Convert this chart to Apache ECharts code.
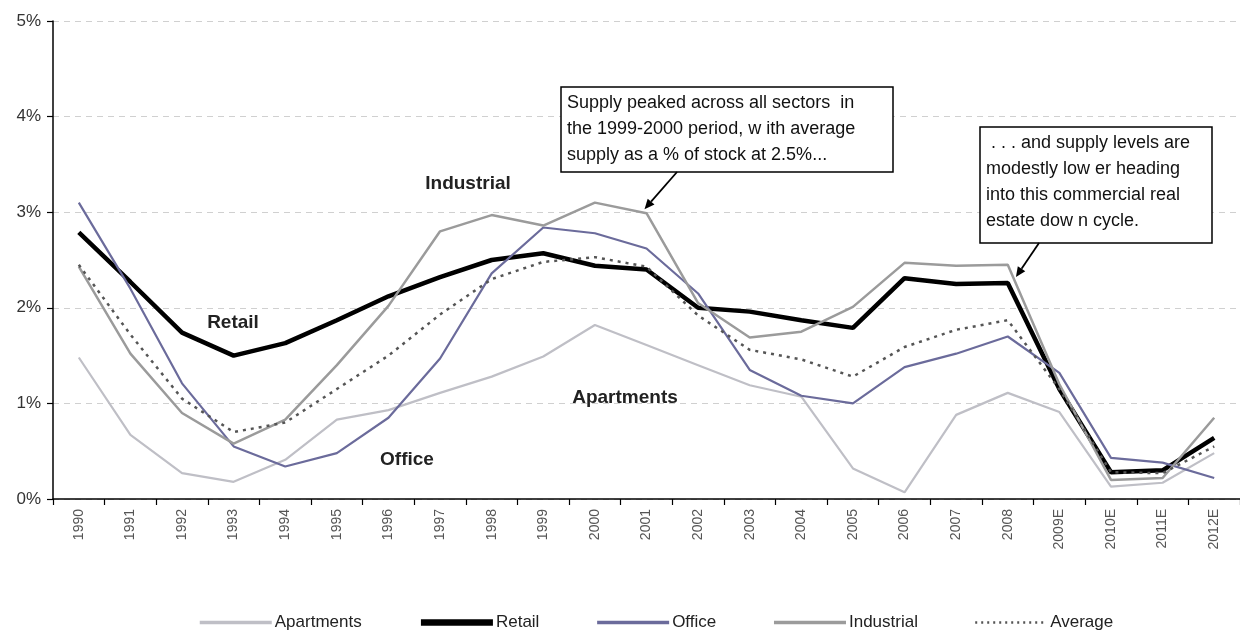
<!DOCTYPE html>
<html>
<head>
<meta charset="utf-8">
<script src="https://cdn.jsdelivr.net/npm/echarts@6/dist/echarts.min.js"></script>
<style>
  html, body { margin: 0; padding: 0; background: #fff; }
  #chart { width: 1240px; height: 631px; }
</style>
</head>
<body>
<div id="chart"></div>
<script>
// New supply as a % of existing stock, by property sector
const years = ['1990','1991','1992','1993','1994','1995','1996','1997','1998','1999',
  '2000','2001','2002','2003','2004','2005','2006','2007','2008','2009E','2010E','2011E','2012E'];
const apartments = [1.48,0.67,0.27,0.18,0.41,0.83,0.93,1.11,1.28,1.49,1.82,1.61,1.40,1.19,1.07,0.32,0.07,0.88,1.11,0.91,0.13,0.17,0.48];
const retail     = [2.79,2.27,1.74,1.50,1.63,1.87,2.12,2.32,2.50,2.57,2.44,2.40,2.00,1.96,1.87,1.79,2.31,2.25,2.26,1.15,0.28,0.30,0.64];
const office     = [3.10,2.20,1.21,0.55,0.34,0.48,0.85,1.47,2.36,2.84,2.78,2.62,2.15,1.35,1.08,1.00,1.38,1.52,1.70,1.32,0.43,0.38,0.22];
const industrial = [2.43,1.52,0.90,0.58,0.83,1.40,2.02,2.80,2.97,2.86,3.10,2.99,2.05,1.69,1.75,2.01,2.47,2.44,2.45,1.20,0.20,0.22,0.85];
const average    = [2.45,1.72,1.05,0.70,0.80,1.15,1.50,1.93,2.30,2.48,2.53,2.43,1.92,1.56,1.46,1.28,1.59,1.77,1.87,1.15,0.28,0.27,0.55];
const yTicks = [0, 1, 2, 3, 4, 5];

const FONT = '"Liberation Sans", Arial, sans-serif';

const chart = echarts.init(document.getElementById('chart'), null, { renderer: 'canvas' });

function lineSeries(name, data, color, width, type) {
  return {
    name: name,
    type: 'line',
    data: data,
    symbol: 'none',
    smooth: false,
    lineStyle: { color: color, width: width, type: type || 'solid' },
    itemStyle: { color: color },
    emphasis: { disabled: true },
    animation: false
  };
}

// Legend entries: line swatch only, with the swatch weight of each sector
function legendItem(name, color, width, type) {
  return {
    name: name,
    itemStyle: { color: 'transparent', borderWidth: 0, opacity: 0 },
    lineStyle: { color: color, width: width, type: type || 'solid' }
  };
}

const option = {
  animation: false,
  grid: { left: 53, right: -8, top: 21, bottom: 132, containLabel: false },
  xAxis: {
    type: 'category',
    data: years,
    boundaryGap: true,
    axisLine: { lineStyle: { color: '#000', width: 1.5 } },
    axisTick: { show: true, length: 6, lineStyle: { color: '#000', width: 1.2 } },
    axisLabel: { rotate: 90, margin: 10, fontSize: 14, color: '#555', fontFamily: FONT },
    splitLine: { show: false }
  },
  yAxis: {
    type: 'value',
    min: yTicks[0],
    max: yTicks[yTicks.length - 1],
    interval: 1,
    axisLine: { show: true, lineStyle: { color: '#000', width: 1.5 } },
    axisTick: { show: true, length: 6, lineStyle: { color: '#000', width: 1.2 } },
    axisLabel: { formatter: '{value}%', fontSize: 17, color: '#333', margin: 12, fontFamily: FONT },
    splitLine: { show: true, lineStyle: { color: '#d0d0d0', width: 1.2, type: [6, 5] } }
  },
  legend: {
    left: 193,
    top: 609,
    itemWidth: 72,
    itemHeight: 8,
    itemGap: 56,
    textStyle: { fontSize: 17, color: '#222', fontFamily: FONT, padding: [0, 0, 0, -2] },
    data: [
      legendItem('Apartments', '#bfbfc6', 3.5),
      legendItem('Retail', '#000000', 6.5),
      legendItem('Office', '#6b6b9b', 3.5),
      legendItem('Industrial', '#9b9b9b', 3.5),
      legendItem('Average', '#555555', 2.5, [2, 4])
    ]
  },
  series: [
    lineSeries('Apartments', apartments, '#bfbfc6', 2.2),
    lineSeries('Retail', retail, '#000000', 4.5),
    lineSeries('Office', office, '#6b6b9b', 2.2),
    lineSeries('Industrial', industrial, '#9b9b9b', 2.5),
    lineSeries('Average', average, '#555555', 2.5, [3, 5])
  ]
};
chart.setOption(option);

// Sector labels and call-out boxes
const labelStyle = { fontSize: 19, fontWeight: 'bold', fill: '#222', fontFamily: FONT };
const calloutText = { fontSize: 18, fill: '#111', fontFamily: FONT, lineHeight: 26 };

function sectorLabel(text, cx, cy) {
  return {
    type: 'text', x: cx, y: cy,
    style: Object.assign({ text: text, align: 'center', verticalAlign: 'middle' }, labelStyle),
    silent: true
  };
}

function callout(x, y, w, h, lines) {
  return {
    type: 'group', x: x, y: y, silent: true,
    children: [
      { type: 'rect', shape: { x: 0, y: 0, width: w, height: h },
        style: { fill: '#fff', stroke: '#000', lineWidth: 1.5 } },
      { type: 'text', x: 6, y: 3,
        style: Object.assign({ text: lines.join('\n'), align: 'left', verticalAlign: 'top' }, calloutText) }
    ]
  };
}

function arrow(from, to) {
  const dx = to[0] - from[0], dy = to[1] - from[1];
  const len = Math.sqrt(dx * dx + dy * dy);
  const ux = dx / len, uy = dy / len;
  const headLen = 10, headW = 4.5;
  const bx = to[0] - ux * headLen, by = to[1] - uy * headLen;
  return [
    { type: 'line', silent: true,
      shape: { x1: from[0], y1: from[1], x2: bx, y2: by },
      style: { stroke: '#000', lineWidth: 1.8 } },
    { type: 'polygon', silent: true,
      shape: { points: [[to[0], to[1]], [bx - uy * headW, by + ux * headW], [bx + uy * headW, by - ux * headW]] },
      style: { fill: '#000' } }
  ];
}

// Arrow tips sit on the Industrial line at its 2001 peak and just after 2008
const tip1 = chart.convertToPixel({ gridIndex: 0 }, [years.indexOf('2001'), industrial[years.indexOf('2001')]]);
const p2008 = chart.convertToPixel({ gridIndex: 0 }, [years.indexOf('2008'), industrial[years.indexOf('2008')]]);
const p2009 = chart.convertToPixel({ gridIndex: 0 }, [years.indexOf('2009E'), industrial[years.indexOf('2009E')]]);
const t = 0.12;
const tip2 = [p2008[0] + (p2009[0] - p2008[0]) * t + 2, p2008[1] + (p2009[1] - p2008[1]) * t];

const graphics = [
  sectorLabel('Industrial', 468, 184),
  sectorLabel('Retail', 233, 323),
  sectorLabel('Apartments', 625, 398),
  sectorLabel('Office', 407, 460),
  callout(561, 87, 332, 85, [
    'Supply peaked across all sectors  in',
    'the 1999-2000 period, w ith average',
    'supply as a % of stock at 2.5%...'
  ]),
  callout(980, 127, 232, 116, [
    ' . . . and supply levels are',
    'modestly low er heading',
    'into this commercial real',
    'estate dow n cycle.'
  ])
].concat(arrow([677, 172], [tip1[0] - 2, tip1[1] - 4]))
 .concat(arrow([1039, 243], [tip2[0], tip2[1] - 2]));

chart.setOption({ graphic: graphics });
</script>
</body>
</html>
